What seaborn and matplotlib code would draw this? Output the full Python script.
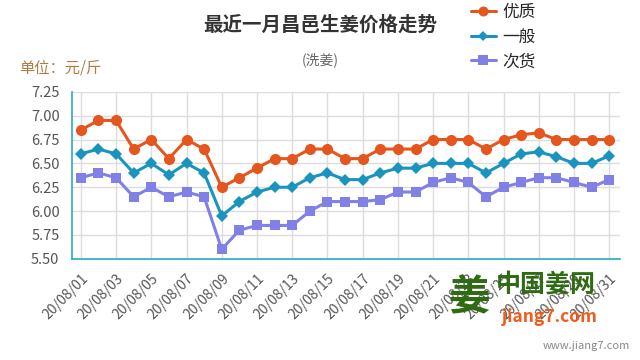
import seaborn as sns
import matplotlib.pyplot as plt
import pandas as pd
from matplotlib.lines import Line2D

days = list(range(1, 32))
tick_days = list(range(1, 32, 2))
tick_labels = ['20/08/%02d' % d for d in tick_days]

youzhi = [6.85, 6.95, 6.95, 6.65, 6.75, 6.55, 6.75, 6.65, 6.25, 6.35,
          6.45, 6.55, 6.55, 6.65, 6.65, 6.55, 6.55, 6.65, 6.65, 6.65,
          6.75, 6.75, 6.75, 6.65, 6.75, 6.80, 6.82, 6.75, 6.75, 6.75, 6.75]
yiban = [6.60, 6.65, 6.60, 6.40, 6.50, 6.38, 6.50, 6.40, 5.95, 6.10,
         6.20, 6.25, 6.25, 6.35, 6.40, 6.33, 6.33, 6.40, 6.45, 6.45,
         6.50, 6.50, 6.50, 6.40, 6.50, 6.60, 6.62, 6.57, 6.50, 6.50, 6.58]
cihuo = [6.35, 6.40, 6.35, 6.15, 6.25, 6.15, 6.20, 6.15, 5.60, 5.80,
         5.85, 5.85, 5.85, 6.00, 6.10, 6.10, 6.10, 6.12, 6.20, 6.20,
         6.30, 6.35, 6.30, 6.15, 6.25, 6.30, 6.35, 6.35, 6.30, 6.25, 6.33]
names = ['优质', '一般', '次货']
y_ticks = [5.50, 5.75, 6.00, 6.25, 6.50, 6.75, 7.00, 7.25]

colors = ['#e5561e', '#1a93bf', '#8080e6']
markers = ['o', 'D', 's']
msizes = [8, 6, 7.5]
axis_c = '#3ab0c8'

sns.set_style('white')
plt.rcParams['font.family'] = ['Noto Sans CJK SC', 'DejaVu Sans']

df = pd.DataFrame({'day': days, '优质': youzhi, '一般': yiban, '次货': cihuo})

fig = plt.figure(figsize=(6.4, 3.6), dpi=100)
ax = fig.add_axes([0.1125, 0.281, 0.856, 0.464])

handles = []
for name, c, m, ms in zip(names, colors, markers, msizes):
    sns.lineplot(data=df, x='day', y=name, ax=ax, color=c, marker=m,
                 markersize=ms, markeredgewidth=0, linewidth=2.2, zorder=3)
    handles.append(Line2D([], [], color=c, marker=m, markersize=ms * 0.9,
                          markeredgewidth=0, linewidth=2.2))

ax.set_xlim(0.5, 31.6)
ax.set_ylim(5.50, 7.25)
ax.set_yticks(y_ticks)
ax.set_yticklabels(['%.2f' % v for v in y_ticks], color='#555555', fontsize=10.5)
ax.set_xticks(tick_days)
ax.set_xticklabels(tick_labels, rotation=45, ha='right', rotation_mode='anchor',
                   color='#555555', fontsize=10)
ax.set_xlabel('')
ax.set_ylabel('')
ax.grid(True, color='#dcdcdc', linewidth=1)
for s in ['top', 'right']:
    ax.spines[s].set_visible(False)
for s in ['left', 'bottom']:
    ax.spines[s].set_color(axis_c)
    ax.spines[s].set_linewidth(1.3)
ax.tick_params(axis='both', length=6, color=axis_c, width=1.2, pad=3)

fig.text(0.5, 0.93, '最近一月昌邑生姜价格走势', ha='center', va='center',
         fontsize=14, fontweight='bold', color='#333333')
fig.text(0.5, 0.835, '(洗姜)', ha='center', va='center', fontsize=10,
         color='#666666')
fig.text(0.03, 0.81, '单位：元/斤', ha='left', va='center', fontsize=11,
         color='#b07a45')
fig.legend(handles, names, loc='upper left', bbox_to_anchor=(0.712, 1.03),
           frameon=False, fontsize=12, handlelength=1.5, handletextpad=0.4,
           labelspacing=0.45)

# watermark
fig.text(0.70, 0.17, '姜', ha='left', va='center', fontsize=30,
         color='#2f6b12', fontweight='bold')
fig.text(0.775, 0.21, '中国姜网', ha='left', va='center', fontsize=18,
         color='#2f6b12', fontweight='bold')
fig.text(0.785, 0.12, 'jiang7.com', ha='left', va='center', fontsize=12.5,
         color='#f05a1a', fontweight='bold', style='italic')
fig.text(0.985, 0.025, 'www.jiang7.com', ha='right', va='bottom', fontsize=8,
         color='#888888')

fig.savefig('out.png', dpi=100)
